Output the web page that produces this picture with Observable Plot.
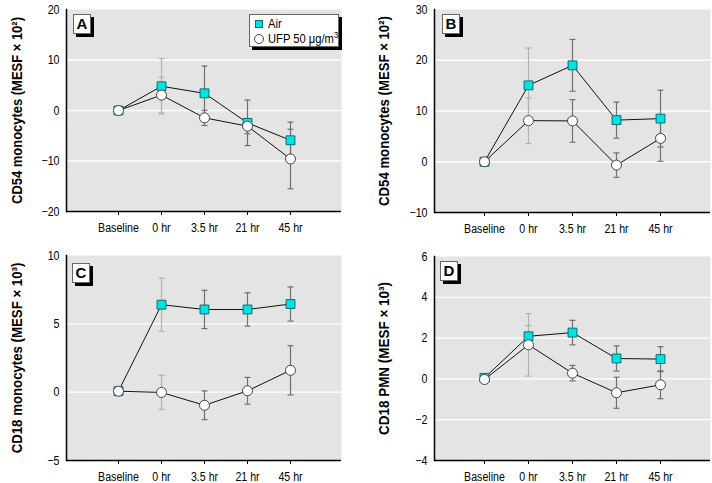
<!DOCTYPE html>
<html>
<head>
<meta charset="utf-8">
<script src="https://cdn.jsdelivr.net/npm/d3@7"></script>
<script src="https://cdn.jsdelivr.net/npm/@observablehq/plot@0.6"></script>
<style>
  html, body { margin: 0; padding: 0; background: white; }
  #wrap { position: relative; width: 712px; height: 483px; overflow: hidden; background: white;
          font-family: "Liberation Sans", Arial, sans-serif; }
  .pane { position: absolute; }
  .letter { position: absolute; width: 16px; height: 18px; background: white; border: 1px solid #666;
            box-shadow: 3px 3px 0 #000; font-weight: bold; font-size: 15px; line-height: 18px; text-align: center; color: #000; }
  .legend { position: absolute; left: 249px; top: 14px; width: 88px; height: 31px; background: white;
            border: 1px solid #666; box-shadow: 3px 3px 0 #000; font-size: 13px; color: #000; }
  .legend .row { position: absolute; left: 4px; height: 14px; line-height: 14px; white-space: nowrap; }
  .legend .txt { display: inline-block; transform: scaleX(0.86); transform-origin: left center; }
  .legend .sq { display: inline-block; width: 6px; height: 6px; background: #00e3e3; border: 1px solid #0a6f6f; vertical-align: middle; margin-right: 5px; margin-left: 1px; position: relative; top: -1px; }
  .legend .ci { display: inline-block; width: 8px; height: 8px; background: white; border: 1px solid #444; border-radius: 50%; vertical-align: middle; margin-right: 4px; position: relative; top: -1px; }
</style>
</head>
<body>
<div id="wrap"></div>
<script>
// ---------- data ----------
const times = ["Baseline", "0 hr", "3.5 hr", "21 hr", "45 hr"];

// Panel A: CD54 monocytes (MESF × 10²)
const airA    = [0, 4.8, 3.4, -2.45, -5.9];
const airAErr = [0, 5.5, 5.4, 4.5, 3.6];
const ufpA    = [0, 3.05, -1.46, -3.1, -9.6];
const ufpAErr = [0, 3.55, 1.5, 1.5, 5.9];

// Panel B: CD54 monocytes (MESF × 10²)
const airB    = [0, 15.05, 19.0, 8.2, 8.5];
const airBErr = [0, 7.35, 5.1, 3.55, 5.6];
const ufpB    = [0, 8.1, 8.05, -0.66, 4.6];
const ufpBErr = [0, 4.5, 4.2, 2.4, 4.5];

// Panel C: CD18 monocytes (MESF × 10³)
const airC    = [0.07, 6.4, 6.05, 6.05, 6.45];
const airCErr = [0, 1.95, 1.4, 1.22, 1.25];
const ufpC    = [0.07, -0.02, -0.96, 0.1, 1.6];
const ufpCErr = [0, 1.25, 1.05, 0.98, 1.8];

// Panel D: CD18 PMN (MESF × 10³)
const airD    = [0.05, 2.09, 2.27, 1.0, 0.97];
const airDErr = [0, 0.53, 0.6, 0.62, 0.61];
const ufpD    = [-0.03, 1.67, 0.28, -0.68, -0.29];
const ufpDErr = [0, 1.53, 0.38, 0.76, 0.68];

const ticksA = [-20, -10, 0, 10, 20];
const ticksB = [-10, 0, 10, 20, 30];
const ticksC = [-5, 0, 5, 10];
const ticksD = [-4, -2, 0, 2, 4, 6];

const labelA = "CD54 monocytes (MESF × 10²)";
const labelB = "CD54 monocytes (MESF × 10²)";
const labelC = "CD18 monocytes (MESF × 10³)";
const labelD = "CD18 PMN (MESF × 10³)";

const seriesNames = ["Air", "UFP 50 μg/m³"];

// ---------- drawing ----------
const FONT = '"Liberation Sans", Arial, sans-serif';
const capSymbol = {
  draw(ctx, size) {
    const w = Math.sqrt(size / Math.PI);
    ctx.moveTo(-w, 0); ctx.lineTo(w, 0);
  }
};
const fmt = d => d < 0 ? "\u2212" + Math.abs(d) : String(d);

function panel(o) {
  const rows = (vals, errs, s) => times.map((t, i) => ({time: t, v: vals[i], e: errs[i], s}));
  const A = rows(o.air, o.airErr, seriesNames[0]);
  const U = rows(o.ufp, o.ufpErr, seriesNames[1]);
  const bars = [...A, ...U].filter(d => d.e > 0);
  const barColor = d => d.time === "0 hr" ? "#b2b2b2" : "#707070";
  const dom = [o.ticks[0], o.ticks[o.ticks.length - 1]];
  const svg = Plot.plot({
    width: o.width, height: o.height,
    marginLeft: o.ml, marginRight: o.mr, marginTop: o.mt, marginBottom: o.mb,
    style: {fontFamily: FONT, fontSize: "12.5px", background: "transparent", overflow: "visible", color: "#000"},
    color: {type: "identity"},
    x: {type: "point", domain: times, padding: o.pad, align: 0.5, tickSize: 4, tickPadding: 8, label: null},
    y: {domain: dom, ticks: o.ticks, tickSize: 0, tickPadding: 7, label: null, tickFormat: fmt},
    marks: [
      Plot.frame({fill: "#e4e4e4", stroke: "none"}),
      Plot.ruleY(o.ticks.slice(1, -1), {stroke: "white", strokeWidth: 1.3}),
      Plot.ruleY([dom[0]], {stroke: "black", strokeWidth: 1.5}),
      Plot.frame({anchor: "left", stroke: "black", strokeWidth: 1.5}),
      Plot.ruleX(bars, {x: "time", y1: d => d.v - d.e, y2: d => d.v + d.e, stroke: barColor, strokeWidth: 1.2}),
      Plot.dot(bars, {x: "time", y: d => d.v + d.e, symbol: capSymbol, r: 3, stroke: barColor, strokeWidth: 1.2}),
      Plot.dot(bars, {x: "time", y: d => d.v - d.e, symbol: capSymbol, r: 3, stroke: barColor, strokeWidth: 1.2}),
      Plot.line(A, {x: "time", y: "v", stroke: "#111", strokeWidth: 1}),
      Plot.line(U, {x: "time", y: "v", stroke: "#111", strokeWidth: 1}),
      Plot.dot(A, {x: "time", y: "v", symbol: "square", r: 5, fill: "#00e3e3", stroke: "#0a6f6f", strokeWidth: 1}),
      Plot.dot(U, {x: "time", y: "v", r: 5, fill: "white", stroke: "#444", strokeWidth: 1}),
      Plot.text([o.label], {text: d => d, frameAnchor: "left", textAnchor: "middle", lineAnchor: "middle",
        dx: o.labelDx, rotate: -90, fontWeight: "bold", fontSize: 15, fill: "#000"})
    ]
  });
  return svg;
}

// condense text to mimic the narrow typeface of the original
function condense(svg, label, labelLen) {
  for (const t of svg.querySelectorAll("text")) {
    const len = t.getComputedTextLength();
    if (!(len > 0)) continue;
    if (t.textContent === label) {
      const k = labelLen / len;
      const tr = t.getAttribute("transform") || "";
      t.setAttribute("transform", tr + ` scale(${k.toFixed(4)},1)`);
    } else {
      t.setAttribute("textLength", (len * 0.85).toFixed(2));
      t.setAttribute("lengthAdjust", "spacingAndGlyphs");
    }
  }
}

const wrap = document.getElementById("wrap");
function place(o, left, top) {
  const node = panel(o);
  const d = document.createElement("div");
  d.className = "pane";
  d.style.left = left + "px"; d.style.top = top + "px";
  d.appendChild(node);
  wrap.appendChild(d);
  condense(node, o.label, o.labelLen);
}

place({air: airA, airErr: airAErr, ufp: ufpA, ufpErr: ufpAErr, ticks: ticksA, label: labelA, labelLen: 187,
  width: 356, height: 240, ml: 66, mr: 15, mt: 9, mb: 29, pad: 1.13, labelDx: -49}, 0, 0);
place({air: airB, airErr: airBErr, ufp: ufpB, ufpErr: ufpBErr, ticks: ticksB, label: labelB, labelLen: 190,
  width: 356, height: 240, ml: 78, mr: 2, mt: 9, mb: 28, pad: 1.07, labelDx: -50}, 356, 0);
place({air: airC, airErr: airCErr, ufp: ufpC, ufpErr: ufpCErr, ticks: ticksC, label: labelC, labelLen: 191,
  width: 356, height: 243, ml: 66, mr: 15, mt: 15, mb: 23, pad: 1.13, labelDx: -49}, 0, 240);
place({air: airD, airErr: airDErr, ufp: ufpD, ufpErr: ufpDErr, ticks: ticksD, label: labelD, labelLen: 153,
  width: 356, height: 243, ml: 78, mr: 2, mt: 16, mb: 23, pad: 1.07, labelDx: -50}, 356, 240);

// panel letters
const letters = [["A", 73, 14], ["B", 442, 14], ["C", 72, 263], ["D", 440, 261]];
for (const [t, x, y] of letters) {
  const d = document.createElement("div");
  d.className = "letter"; d.textContent = t;
  d.style.left = x + "px"; d.style.top = y + "px";
  wrap.appendChild(d);
}

// legend
const lg = document.createElement("div");
lg.className = "legend";
lg.innerHTML = `<div class="row" style="top:2px"><span class="sq"></span><span class="txt">${seriesNames[0]}</span></div>
<div class="row" style="top:17px"><span class="ci"></span><span class="txt">UFP 50 μg/m<sup style="font-size:9px;vertical-align:5px;line-height:0">3</sup></span></div>`;
wrap.appendChild(lg);
</script>
</body>
</html>
